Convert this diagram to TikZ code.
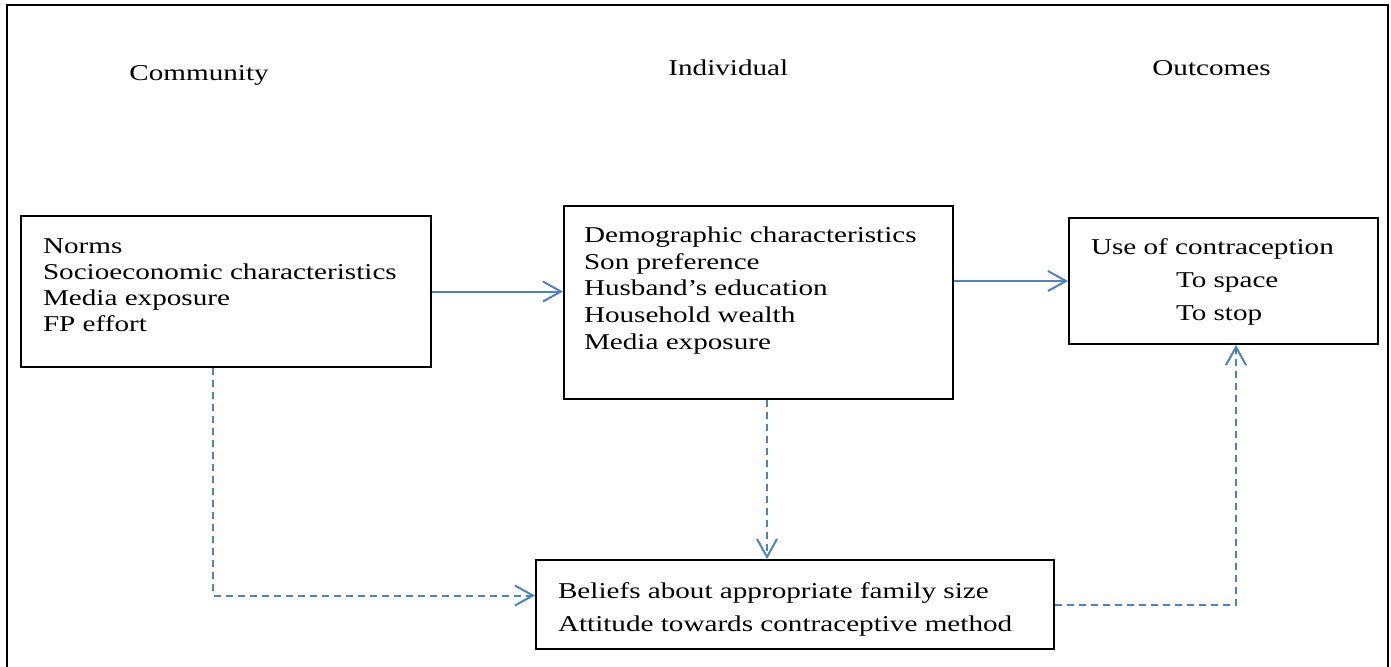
\documentclass[tikz,border=0pt]{standalone}
\usepackage{fontspec}
\setmainfont[FakeStretch=1.29]{Liberation Serif}
\usetikzlibrary{arrows.meta}
\definecolor{arrblue}{HTML}{4F81BD}
\newcommand{\bxt}[6]{\begin{minipage}[t][#2][t]{#1}\fontsize{11.3pt}{#5}\selectfont\raggedright\leftskip=#3\relax\rule{0pt}{#4}#6\end{minipage}}
\begin{document}
\begin{tikzpicture}[x=0.5pt,y=-0.5pt,
  box/.style={draw,line width=1pt,inner sep=0pt,anchor=north west},
  sol/.style={arrblue,line width=1pt,-{Straight Barb[length=9pt,width=10pt,line width=1pt]}},
  dsh/.style={sol,dash pattern=on 3.5pt off 2.5pt},
  head/.style={anchor=base west,inner sep=0pt,font=\fontsize{11.3pt}{13pt}\selectfont}]
\useasboundingbox (0,0) rectangle (1391,666);
\draw[line width=1pt] (7,5) rectangle (1388,690);
\node[head] (hcomm) at (129,80) {Community};
\node[head] (hind) at (668,75) {Individual};
\node[head] (hout) at (1152,75) {Outcomes};
\node[box] (comm) at (20,215) {\bxt{205pt}{75.5pt}{11pt}{18.5pt}{13pt}{Norms\\Socioeconomic characteristics\\Media exposure\\FP effort}};
\node[box] (indiv) at (563,205) {\bxt{194.5pt}{96.5pt}{10pt}{18.3pt}{13.3pt}{Demographic characteristics\\Son preference\\Husband’s education\\Household wealth\\Media exposure}};
\node[box] (outc) at (1068,217) {\bxt{154.5pt}{63pt}{11pt}{18pt}{16.5pt}{Use of contraception\\\hspace*{42.5pt}To space\\\hspace*{42.5pt}To stop}};
\node[box] (bot) at (535,559) {\bxt{259pt}{44.5pt}{11pt}{19pt}{16.5pt}{Beliefs about appropriate family size\\Attitude towards contraceptive method}};
\draw[sol] (comm.east) -- (comm.east -| indiv.west);
\draw[sol] (outc.west -| indiv.east) -- (outc.west);
\draw[dsh] ([xshift=-6.5pt]comm.south) |- ([yshift=4.5pt]bot.west);
\draw[dsh] ([xshift=4.25pt]indiv.south) -- ([xshift=4.25pt]indiv.south |- bot.north);
\draw[dsh] (bot.east) -| ([xshift=6.25pt]outc.south);
\end{tikzpicture}
\end{document}
